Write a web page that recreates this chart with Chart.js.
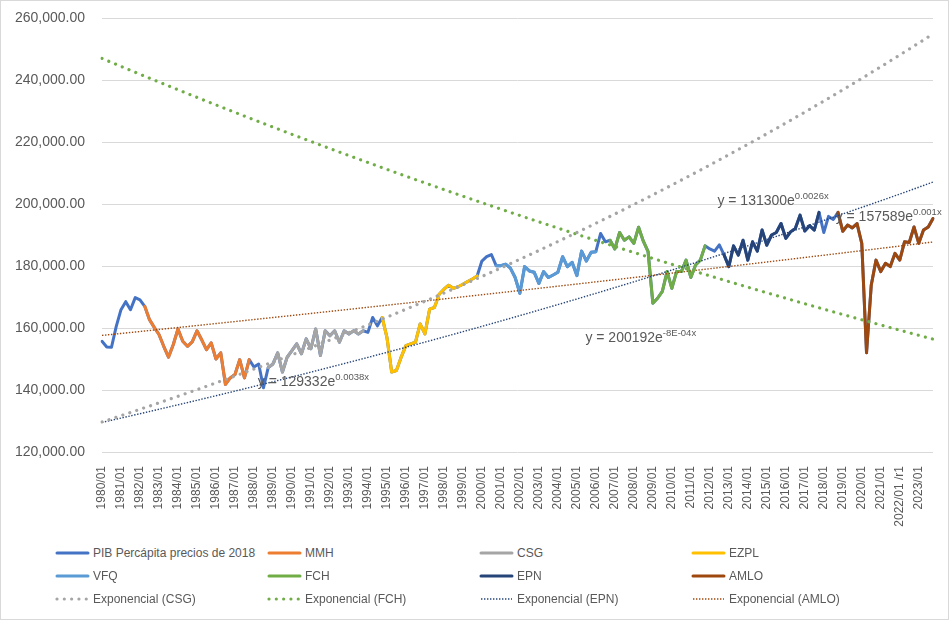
<!DOCTYPE html>
<html>
<head>
<meta charset="utf-8">
<title>PIB Percápita</title>
<script src="https://cdn.jsdelivr.net/npm/chart.js@4.4.1/dist/chart.umd.min.js"></script>
<style>
  html, body { margin: 0; padding: 0; background: #fff; }
  #wrap { position: relative; width: 949px; height: 620px; background: #fff; overflow: hidden; }
  #frame { position: absolute; left: 0; top: 0; right: 0; bottom: 0; border: 1px solid #D9D9D9; box-sizing: border-box; pointer-events: none; }
  #chartBox { position: absolute; left: 0; top: 0; width: 949px; height: 540px; }
  #legend { position: absolute; left: 54px; top: 541px; display: grid; grid-template-columns: repeat(4, 212px); grid-auto-rows: 23px;
            font: 12px 'Liberation Sans', Arial, sans-serif; color: #595959; }
  #legend .item { display: flex; align-items: center; white-space: nowrap; }
  #legend canvas { margin-right: 3px; }
</style>
</head>
<body>
<div id="wrap">
  <div id="chartBox"><canvas id="pibChart"></canvas></div>
  <div id="legend"></div>
  <div id="frame"></div>
</div>
<script>
'use strict';

// quarterly categories 1980/01 .. 2023/04
const firstYear = 1980;
const lastYear = 2023;
const quarterLabels = [];
for (let yr = firstYear; yr <= lastYear; yr++) {
    for (let q = 1; q <= 4; q++) quarterLabels.push(yr + '/0' + q);
}
quarterLabels[quarterLabels.indexOf('2022/01')] = '2022/01 /r1';

// PIB per capita, pesos de 2018
const pib = [
    155700, 153900, 153800, 160500,   // 1980
    165900, 168500, 165900, 169800,   // 1981
    169100, 167000, 162700, 160200,   // 1982
    157900, 154100, 150600, 154600,   // 1983
    159700, 155700, 154100, 155500,   // 1984
    159100, 156200, 153000, 155200,   // 1985
    150000, 152000, 141800, 143900,   // 1986
    145000, 149800, 143900, 149800,   // 1987
    147400, 148400, 140700, 147200,   // 1988
    148400, 152000, 145800, 150600,   // 1989
    152700, 154900, 151700, 156500,   // 1990
    153300, 159700, 151100, 159100,   // 1991
    157500, 159100, 155400, 159100,   // 1992
    158100, 159100, 158100, 159100,   // 1993
    158600, 163400, 160700, 163400,   // 1994
    157000, 145800, 146300, 150600,   // 1995
    154300, 154900, 155400, 161300,   // 1996
    158100, 166100, 166600, 170900,   // 1997
    172500, 173800, 172800, 173300,   // 1998
    174100, 175000, 175800, 176800,   // 1999
    181600, 183000, 183700, 180100,   // 2000
    180100, 180600, 179300, 176300,   // 2001
    171200, 179800, 178400, 178000,   // 2002
    174400, 178200, 176300, 177100,   // 2003
    178000, 183000, 179800, 181200,   // 2004
    176900, 184800, 181600, 184400,   // 2005
    184600, 190500, 187800, 188300,   // 2006
    185500, 190800, 188300, 189400,   // 2007
    187300, 192500, 188000, 184600,   // 2008
    168000, 169600, 171800, 178200,   // 2009
    172800, 178200, 178200, 181900,   // 2010
    176300, 180300, 181900, 186500,   // 2011
    185500, 184800, 186800, 183600,   // 2012
    179800, 186500, 183500, 188300,   // 2013
    181900, 187800, 184800, 191600,   // 2014
    186700, 190000, 190800, 193700,   // 2015
    188900, 191000, 192100, 196400,   // 2016
    191300, 193000, 191600, 197300,   // 2017
    190800, 196000, 195000, 197300,   // 2018
    191200, 193200, 192300, 193700,   // 2019
    187300, 152000, 173900, 181900,   // 2020
    178200, 180900, 179800, 184100,   // 2021
    181900, 187800, 187600, 192600,   // 2022
    187300, 191600, 192600, 195300    // 2023
];

// sexenios (first and last quarter index of each coloured piece)
const periodNames  = ['MMH', 'CSG', 'EZPL', 'VFQ', 'FCH', 'EPN', 'AMLO'];
const periodStart  = [9, 35, 59, 83, 107, 131, 155];
const periodEnd    = [31, 55, 79, 104, 127, 151, 175];
const periodColors = ['#ED7D31', '#A5A5A5', '#FFC000', '#5B9BD5', '#70AD47', '#264478', '#9E480E'];

// exponential trendlines y = a*e^(b*x), x = 1..n
const trendNames  = ['CSG', 'FCH', 'EPN', 'AMLO'];
const trendA      = [129200, 247600, 129200, 157450];
const trendB      = [0.00386, -0.00261, 0.00268, 0.00100];
const trendColors = ['#A5A5A5', '#70AD47', '#264478', '#9E480E'];
const trendEqMain = ['y = 129332e', 'y = 200192e', 'y = 131300e', 'y = 157589e'];
const trendEqExp  = ['0.0038x', '-8E-04x', '0.0026x', '0.001x'];
const trendEqAt   = [[32.8, 141300], [101.8, 155400], [129.6, 199600], [154.5, 194500]];

const yTicks = [120000, 140000, 160000, 180000, 200000, 220000, 240000, 260000];

const fontFamily = "'Liberation Sans', Arial, sans-serif";
const textColor = '#595959';

const datasets = [{
    label: 'PIB Percápita precios de 2018',
    data: pib,
    borderColor: '#4472C4',
    borderWidth: 3,
    borderJoinStyle: 'round',
    borderCapStyle: 'round',
    order: 30
}];

periodNames.forEach((name, k) => {
    datasets.push({
        label: name,
        data: pib.map((v, i) => (i >= periodStart[k] && i <= periodEnd[k]) ? v : null),
        borderColor: periodColors[k],
        borderWidth: 3,
        borderJoinStyle: 'round',
        borderCapStyle: 'round',
        spanGaps: false,
        order: 20
    });
});

trendNames.forEach((name, k) => {
    const big = k < 2;
    datasets.push({
        label: 'Exponencial (' + name + ')',
        data: pib.map((v, i) => trendA[k] * Math.exp(trendB[k] * (i + 1))),
        borderColor: trendColors[k],
        borderWidth: big ? 3.2 : 1.4,
        borderDash: big ? [0.01, 7.3] : [1.4, 1.6],
        borderCapStyle: big ? 'round' : 'butt',
        order: 10
    });
});

const trendLabels = {
    id: 'trendLabels',
    afterDatasetsDraw(chart) {
        const { ctx } = chart;
        const x = chart.scales.x;
        const y = chart.scales.y;
        ctx.save();
        ctx.fillStyle = textColor;
        ctx.textBaseline = 'alphabetic';
        ctx.textAlign = 'left';
        trendEqMain.forEach((txt, k) => {
            const px = x.getPixelForValue(trendEqAt[k][0]);
            const py = y.getPixelForValue(trendEqAt[k][1]);
            ctx.font = '14px ' + fontFamily;
            ctx.fillText(txt, px, py);
            const w = ctx.measureText(txt).width;
            ctx.font = '9.5px ' + fontFamily;
            ctx.fillText(trendEqExp[k], px + w, py - 6);
        });
        ctx.restore();
    }
};

const chart = new Chart(document.getElementById('pibChart'), {
    type: 'line',
    data: {
        labels: quarterLabels,
        datasets: datasets
    },
    options: {
        responsive: true,
        maintainAspectRatio: false,
        animation: false,
        layout: { padding: { top: 18, right: 16, left: 0, bottom: 0 } },
        elements: {
            point: { radius: 0, hoverRadius: 0 },
            line: { tension: 0 }
        },
        plugins: {
            legend: { display: false },
            tooltip: { enabled: false }
        },
        scales: {
            x: {
                type: 'category',
                offset: false,
                grid: { display: false },
                border: { display: false },
                ticks: {
                    autoSkip: false,
                    minRotation: 90,
                    maxRotation: 90,
                    padding: 6,
                    color: textColor,
                    font: { size: 12, family: fontFamily },
                    callback: function (value, index) {
                        return index % 4 === 0 ? this.getLabelForValue(value) : '';
                    }
                },
                afterFit: function (scale) {
                    scale.height = 88;
                    scale.paddingLeft = 0;
                    scale.paddingRight = 0;
                }
            },
            y: {
                min: yTicks[0],
                max: yTicks[yTicks.length - 1],
                afterBuildTicks: function (scale) {
                    scale.ticks = yTicks.map(v => ({ value: v }));
                },
                grid: { color: '#D9D9D9', lineWidth: 1, drawTicks: false },
                border: { display: false },
                ticks: {
                    padding: 17,
                    color: textColor,
                    font: { size: 14, family: fontFamily },
                    callback: v => v.toLocaleString('en-US', { minimumFractionDigits: 2, maximumFractionDigits: 2 })
                },
                afterFit: function (scale) {
                    scale.width = 102;
                    scale.paddingTop = 0;
                    scale.paddingBottom = 0;
                }
            }
        }
    },
    plugins: [trendLabels]
});

// legend in four fixed columns, like the original
const legendBox = document.getElementById('legend');
chart.data.datasets.forEach(ds => {
    const item = document.createElement('div');
    item.className = 'item';
    const sw = document.createElement('canvas');
    sw.width = 36;
    sw.height = 10;
    const c = sw.getContext('2d');
    c.strokeStyle = ds.borderColor;
    c.lineWidth = ds.borderWidth;
    c.lineCap = ds.borderCapStyle || 'butt';
    c.setLineDash(ds.borderDash || []);
    c.beginPath();
    c.moveTo(3, 5);
    c.lineTo(34, 5);
    c.stroke();
    const t = document.createElement('span');
    t.textContent = ds.label;
    item.appendChild(sw);
    item.appendChild(t);
    legendBox.appendChild(item);
});
</script>
</body>
</html>
